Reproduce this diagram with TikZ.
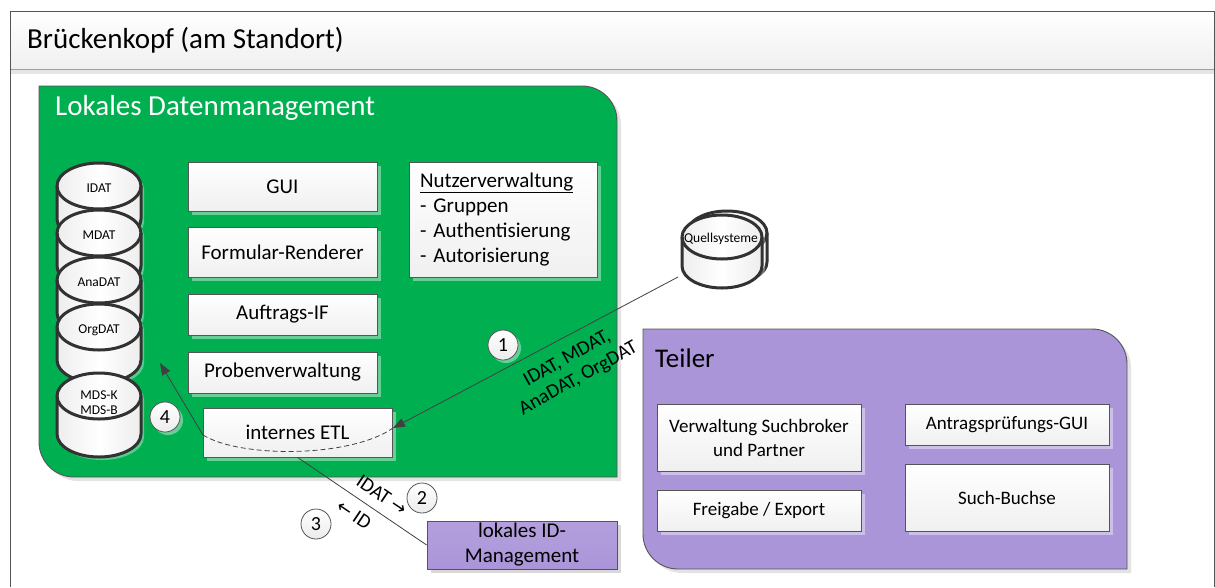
\documentclass[tikz,border=0pt]{standalone}
\usepackage{fontspec}
\setmainfont{Carlito}
\newfontfamily\symfont{DejaVu Sans}
\usetikzlibrary{arrows.meta,shadows,calc}
\definecolor{lgreen}{RGB}{0,176,80}
\definecolor{lpurple}{RGB}{171,149,217}
\definecolor{edgec}{RGB}{85,85,85}
\definecolor{dbedge}{RGB}{50,50,50}
\definecolor{linec}{RGB}{64,64,64}
% rounded panel: top-right and bottom-left corners rounded
\newcommand\panelpath[6]{\path[#6] (#1,#2) -- (#3-#5,#2) .. controls (#3-0.4477*#5,#2) and (#3,#2+0.4477*#5) .. (#3,#2+#5) -- (#3,#4) -- (#1+#5,#4) .. controls (#1+0.4477*#5,#4) and (#1,#4-0.4477*#5) .. (#1,#4-#5) -- cycle;}
% cylinder: cx, top, bottom, rx, ry
\newcommand\dbcyl[5]{%
  \path[dbshadow] (#1-#4+3,#2+#5+3) -- (#1-#4+3,#3-#5+3) arc[start angle=180, end angle=0, x radius=#4, y radius=#5] -- (#1+#4+3,#2+#5+3) arc[start angle=0, end angle=-180, x radius=#4, y radius=#5] -- cycle;
  \path[dbbody] (#1-#4,#2+#5) -- (#1-#4,#3-#5) arc[start angle=180, end angle=0, x radius=#4, y radius=#5] -- (#1+#4,#2+#5) arc[start angle=0, end angle=-180, x radius=#4, y radius=#5] -- cycle;
  \draw[dbline] (#1-#4,#2+#5) arc[start angle=180, end angle=0, x radius=#4, y radius=#5];}
\begin{document}
\begin{tikzpicture}[x=1pt,y=-1pt,
  box/.style={draw=edgec, line width=0.8pt, top color=white, bottom color=gray!12, inner sep=2pt, text=black,
    font=\fontsize{21}{25}\selectfont, align=center,
    drop shadow={shadow xshift=3.5pt, shadow yshift=-3.5pt, fill=white, opacity=0.4}},
  tbox/.style={box, font=\fontsize{19}{24}\selectfont},
  num/.style={circle, draw=edgec, line width=0.8pt, top color=white, bottom color=gray!15, minimum size=30pt, inner sep=0pt,
    font=\fontsize{20}{20}\selectfont,
    drop shadow={shadow xshift=3pt, shadow yshift=-3pt, fill=white, opacity=0.4}},
  dbshadow/.style={fill=white, opacity=0.35},
  dbbody/.style={draw=dbedge, line width=3pt, left color=gray!14, right color=gray!14, middle color=white},
  dbline/.style={draw=dbedge, line width=3pt},
  dblabel/.style={font=\fontsize{13.5}{15}\selectfont, align=center, inner sep=0pt},
  conn/.style={draw=linec, line width=0.8pt},
  arr/.style={conn, -{Triangle[length=12pt,width=9pt]}},
  lbl/.style={font=\fontsize{20}{23}\selectfont, align=center, inner sep=0pt},
]
\useasboundingbox (0,0) rectangle (1215,587);
\fill[white] (0,0) rectangle (1215,587);
% outer frame and header
\shade[top color=white, bottom color=gray!12] (10,11) rectangle (1214,69);
\fill[gray!20] (10,70) rectangle (1214,74);
\draw[gray!75, line width=1.6pt] (10,69.5) -- (1214,69.5);
\draw[edgec, line width=0.9pt] (10,587) -- (10,11) -- (1214,11) -- (1214,587);
\node[anchor=west, font=\fontsize{29}{34}\selectfont, inner sep=0pt] (title) at (27,40) {Brückenkopf (am Standort)};

% green panel
\panelpath{43}{90}{621}{481}{35}{fill=gray!22}
\panelpath{39}{86}{617}{477}{35}{fill=lgreen, draw=edgec, line width=0.9pt}
\node[anchor=west, font=\fontsize{29}{34}\selectfont, text=white, inner sep=0pt] (ldm) at (55,108) {Lokales Datenmanagement};

% purple panel
\panelpath{647}{333}{1131}{573}{35}{fill=gray!22}
\panelpath{643}{329}{1127}{569}{35}{fill=lpurple, draw=edgec, line width=0.9pt}
\node[anchor=west, font=\fontsize{27}{32}\selectfont, inner sep=0pt] (teiler) at (655,358) {Teiler};

% database stack
\dbcyl{99}{163}{242}{42}{23}
\node[dblabel] (idat) at (99,188) {IDAT};
\dbcyl{99}{210}{289}{42}{23}
\node[dblabel] (mdat) at (99,235) {MDAT};
\dbcyl{99}{257}{336}{42}{23}
\node[dblabel] (anadat) at (99,282) {AnaDAT};
\dbcyl{99}{304}{383}{42}{23}
\node[dblabel] (orgdat) at (99,330) {OrgDAT};
\dbcyl{99}{373}{457}{42}{23}
\node[dblabel] (mds) at (99,403) {MDS-K\\MDS-B};

% Quellsysteme
\dbcyl{727}{211}{284}{40}{22}
\dbcyl{722}{215}{288}{40}{22}
\node[dblabel] (qs) at (721,239) {Quellsysteme};

% boxes in green panel
\node[box, minimum width=189pt, minimum height=49pt] (gui) at (282.5,186.5) {GUI};
\node[box, minimum width=189pt, minimum height=50pt] (form) at (282.5,252) {Formular-Renderer};
\node[box, minimum width=189pt, minimum height=41pt] (auf) at (282.5,314.5) {Auftrags-IF};
\node[box, minimum width=189pt, minimum height=41pt] (prob) at (282.5,372.5) {Probenverwaltung};
\node[box, minimum width=189pt, minimum height=49pt] (etl) at (297.5,432.5) {internes ETL};
\node[box, minimum width=188pt, minimum height=115pt, text width=166pt, inner xsep=11pt, align=left] (nutz) at (503,219.5)
  {\underline{Nutzerverwaltung}\\- Gruppen\\- Authentisierung\\- Autorisierung};

% boxes in purple panel
\node[tbox, minimum width=204pt, minimum height=67pt] (vsb) at (759,437.5) {Verwaltung Suchbroker\\und Partner};
\node[tbox, minimum width=204pt, minimum height=41pt] (frei) at (759,510.5) {Freigabe / Export};
\node[tbox, minimum width=204pt, minimum height=41pt] (antr) at (1007,424.5) {Antragsprüfungs-GUI};
\node[tbox, minimum width=204pt, minimum height=67pt] (such) at (1007,497.5) {Such-Buchse};

% ID management
\node[box, top color=lpurple!90, bottom color=lpurple, minimum width=190pt, minimum height=48pt,
  drop shadow={shadow xshift=3.5pt, shadow yshift=-3.5pt, fill=gray, opacity=0.3}] (idm) at (522,545) {lokales ID-\\Management};

% connectors
\coordinate (qsout) at (678,277);
\coordinate (etlin) at (393,428);
\coordinate (etlleft) at (203,435);
\coordinate (stack) at (160,363);
\draw[arr] (qsout) -- (etlin);
\draw[conn, dashed, dash pattern=on 5pt off 3pt] (etlleft) .. controls (240,458) and (350,458) .. (etlin);
\draw[arr] (etlleft) -- (stack);
\draw[conn] (etl.south) -- (idm.west);

% labels
\node[num] (n1) at (503,345) {1};
\node[num] (n2) at (422,498) {2};
\node[num] (n3) at (316,524) {3};
\node[num] (n4) at (165,417) {4};
\node[lbl, rotate=29] (l1) at (573,369) {IDAT, MDAT,\\AnaDAT, OrgDAT};
\node[lbl, rotate=-34] (l2) at (382,495) {IDAT {\symfont\fontsize{18}{18}\selectfont →}};
\node[lbl, rotate=-34] (l3) at (354,515) {{\symfont\fontsize{18}{18}\selectfont ←} ID};
\end{tikzpicture}
\end{document}
